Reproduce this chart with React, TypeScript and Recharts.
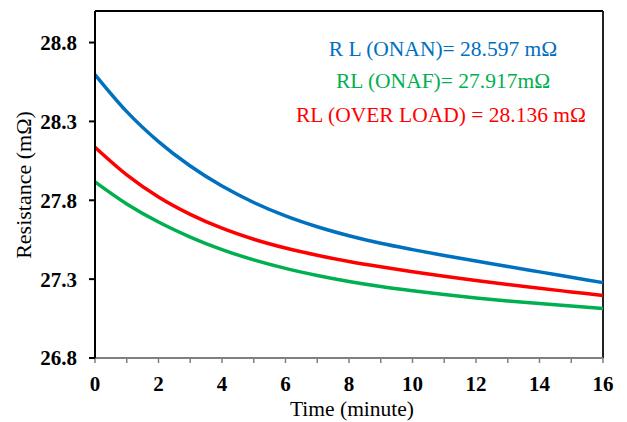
import React from 'react';
import { LineChart, Line, XAxis, YAxis, ReferenceLine, Customized } from 'recharts';

const timeMin = [0, 1, 2, 3, 4, 5, 6, 7, 8, 9, 10, 11, 12, 13, 14, 15, 16];
const onan = [28.597, 28.362, 28.172, 28.017, 27.89, 27.786, 27.701, 27.632, 27.575, 27.527, 27.487, 27.45, 27.415, 27.38, 27.346, 27.312, 27.278];
const onaf = [27.917, 27.777, 27.662, 27.567, 27.487, 27.422, 27.368, 27.323, 27.285, 27.253, 27.226, 27.202, 27.181, 27.162, 27.145, 27.129, 27.114];
const overLoad = [28.136, 27.961, 27.821, 27.711, 27.623, 27.553, 27.497, 27.451, 27.412, 27.378, 27.347, 27.318, 27.291, 27.266, 27.242, 27.219, 27.196];

const xTicks = [0, 1, 2, 3, 4, 5, 6, 7, 8, 9, 10, 11, 12, 13, 14, 15, 16];
const yTicks = [26.8, 27.3, 27.8, 28.3, 28.8];
const yDomain = [26.8, 29.0];

const annotations = [
  { text: 'R L (ONAN)= 28.597 mΩ', color: '#0070C0' },
  { text: 'RL (ONAF)= 27.917mΩ', color: '#00B050' },
  { text: 'RL (OVER LOAD) = 28.136 mΩ', color: '#FF0000' },
];

const data = timeMin.map((t, i) => ({ t, onan: onan[i], onaf: onaf[i], over: overLoad[i] }));

const FONT = '"Liberation Serif", "Times New Roman", serif';

const Overlay = () => (
  <g fontFamily={FONT}>
    <text x={435} y={48} textAnchor="middle" fontSize={21.5} fill={annotations[0].color}>{annotations[0].text}</text>
    <text x={435} y={80} textAnchor="middle" fontSize={21.5} fill={annotations[1].color}>{annotations[1].text}</text>
    <text x={433} y={114} textAnchor="middle" fontSize={21.5} fill={annotations[2].color}>{annotations[2].text}</text>
    <text x={344} y={408} textAnchor="middle" fontSize={21.5} fill="#000">Time (minute)</text>
    <text x={23} y={177} textAnchor="middle" fontSize={22} fill="#000" transform="rotate(-90, 23, 177)">Resistance (mΩ)</text>
  </g>
);

export default function App() {
  return (
    <LineChart width={611} height={414} data={data} margin={{ top: 3, right: 16, left: 0, bottom: 0 }}>
      <XAxis
        dataKey="t"
        type="number"
        domain={[0, 16]}
        ticks={xTicks}
        interval={0}
        tickFormatter={(v: number) => (v % 2 === 0 ? String(v) : '')}
        height={64}
        tickSize={5}
        tickMargin={13}
        stroke="#808080"
        axisLine={{ stroke: '#808080', strokeWidth: 2 }}
        tickLine={{ stroke: '#808080', strokeWidth: 1.5 }}
        tick={{ fill: '#000', fontSize: 21, fontWeight: 'bold', fontFamily: FONT }}
      />
      <YAxis
        type="number"
        domain={yDomain}
        ticks={yTicks}
        interval={0}
        width={87}
        tickSize={6}
        tickMargin={12}
        tickFormatter={(v: number) => v.toFixed(1)}
        axisLine={{ stroke: '#000', strokeWidth: 2 }}
        tickLine={{ stroke: '#000', strokeWidth: 2 }}
        tick={{ fill: '#000', fontSize: 21, fontWeight: 'bold', fontFamily: FONT }}
        allowDataOverflow
      />
      <ReferenceLine y={29.0} stroke="#000" strokeWidth={2} ifOverflow="visible" />
      <ReferenceLine x={16} stroke="#222" strokeWidth={2} ifOverflow="visible" />
      <Line type="monotone" dataKey="onan" stroke="#0070C0" strokeWidth={3.5} dot={false} isAnimationActive={false} />
      <Line type="monotone" dataKey="over" stroke="#FF0000" strokeWidth={3.5} dot={false} isAnimationActive={false} />
      <Line type="monotone" dataKey="onaf" stroke="#00B050" strokeWidth={3.5} dot={false} isAnimationActive={false} />
      <Customized component={Overlay} />
    </LineChart>
  );
}
